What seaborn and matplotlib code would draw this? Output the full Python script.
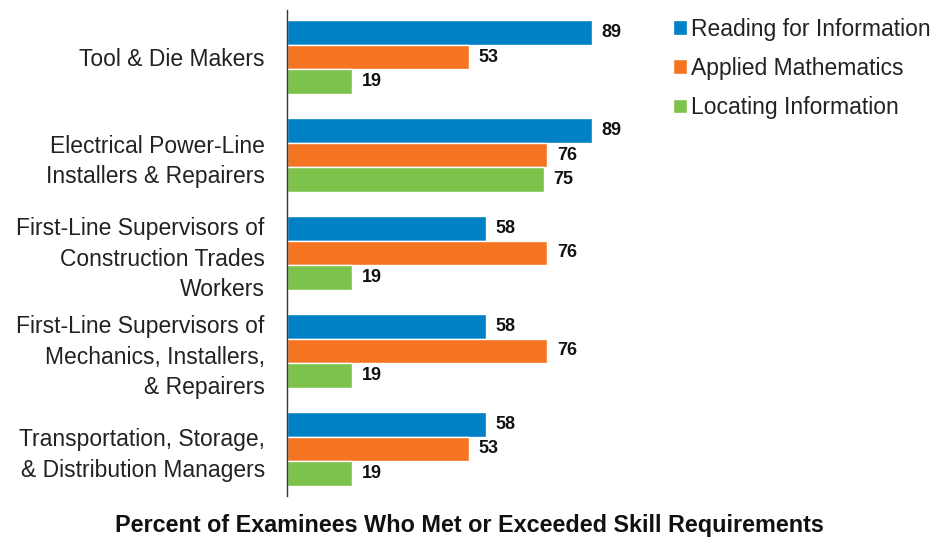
import pandas as pd
import seaborn as sns
import matplotlib.pyplot as plt
from matplotlib.patches import Patch

# data
occupations = ['Tool & Die Makers',
               'Electrical Power-Line\nInstallers & Repairers',
               'First-Line Supervisors of\nConstruction Trades\nWorkers',
               'First-Line Supervisors of\nMechanics, Installers,\n& Repairers',
               'Transportation, Storage,\n& Distribution Managers']
skills = ['Reading for Information', 'Applied Mathematics', 'Locating Information']
reading = [89, 89, 58, 58, 58]
math_ = [53, 76, 76, 76, 53]
locating = [19, 75, 19, 19, 19]
colors = ['#0081C6', '#F47421', '#7DC24B']

rows = []
for occ, r, m, l in zip(occupations, reading, math_, locating):
    rows.append((occ, skills[0], r))
    rows.append((occ, skills[1], m))
    rows.append((occ, skills[2], l))
df = pd.DataFrame(rows, columns=['occupation', 'skill', 'pct'])

sns.set_style('white')
plt.rcParams['font.family'] = ['Liberation Sans', 'DejaVu Sans']

fig = plt.figure(figsize=(9.44, 5.4), dpi=100)
ax = fig.add_axes([0.304, 0.0815, 0.363, 0.90])

sns.barplot(data=df, y='occupation', x='pct', hue='skill', order=occupations,
            hue_order=skills, palette=colors, orient='h', width=0.75,
            saturation=1, ax=ax, legend=False)

for cont in ax.containers:
    ax.bar_label(cont, fmt='%d', padding=7, fontsize=13, fontweight='bold', color='#111111')

ax.set_xlim(0, 100)
ax.set_ylim(4.48, -0.48)
ax.set_xlabel('')
ax.set_ylabel('')
ax.set_xticks([])
ax.tick_params(axis='y', length=0, pad=16)
for lab in ax.get_yticklabels():
    lab.set_fontsize(16.5)
    lab.set_linespacing(1.4)
    lab.set_multialignment('right')
    lab.set_color('#222222')
for s in ['top', 'right', 'bottom']:
    ax.spines[s].set_visible(False)
ax.spines['left'].set_color('#333333')
ax.spines['left'].set_linewidth(1.0)

handles = [Patch(facecolor=c, label=s) for c, s in zip(colors, skills)]
fig.legend(handles=handles, loc='upper left', bbox_to_anchor=(0.6935, 1.001),
           frameon=False, fontsize=16.5, handlelength=0.6, handleheight=0.6,
           handletextpad=0.2, labelspacing=0.7, labelcolor='#222222',
           borderpad=0.3)

fig.text(0.497, 0.027, 'Percent of Examinees Who Met or Exceeded Skill Requirements',
         ha='center', va='center', fontsize=16.8, fontweight='bold', color='#111111')

fig.savefig('out.png', dpi=100)
